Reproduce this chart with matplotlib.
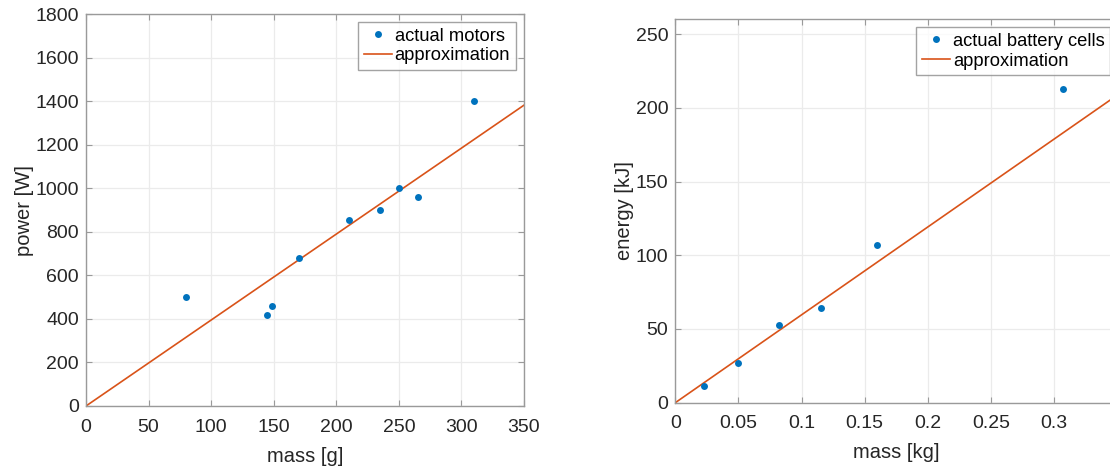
import matplotlib
matplotlib.use("Agg")
import matplotlib.pyplot as plt
import numpy as np

plt.rcParams['font.family'] = ['Liberation Sans', 'DejaVu Sans']

# Motor data: mass [g] vs. power [W]
motor_mass_g = [80, 145, 149, 170, 210, 235, 250, 265, 310]
motor_power_w = [500, 420, 460, 680, 856, 900, 1000, 960, 1400]
motor_slope = 3.95          # W per g, linear approximation through origin
motor_xticks = [0, 50, 100, 150, 200, 250, 300, 350]
motor_yticks = [0, 200, 400, 600, 800, 1000, 1200, 1400, 1600, 1800]

# Battery cell data: mass [kg] vs. energy [kJ]
cell_mass_kg = [0.023, 0.05, 0.082, 0.115, 0.16, 0.307]
cell_energy_kj = [11, 27, 53, 64, 107, 213]
cell_slope = 596            # kJ per kg, linear approximation through origin
cell_xticks = [0, 0.05, 0.1, 0.15, 0.2, 0.25, 0.3]
cell_xticklabels = ['0', '0.05', '0.1', '0.15', '0.2', '0.25', '0.3']
cell_yticks = [0, 50, 100, 150, 200, 250]

BLUE = '#0072BD'
ORANGE = '#D95319'
TEXT = '#262626'
SPINE = '#9a9a9a'
GRID = '#ebebeb'

W, H = 1110, 466
fig = plt.figure(figsize=(W / 100, H / 100), dpi=100)
fig.patch.set_facecolor('white')


def px_axes(left, top, right, bottom):
    return fig.add_axes([left / W, 1 - bottom / H, (right - left) / W, (bottom - top) / H])


def style(ax):
    for s in ax.spines.values():
        s.set_color(SPINE)
        s.set_linewidth(1.0)
    ax.tick_params(direction='in', length=4, width=0.8, color=SPINE,
                   labelsize=14, labelcolor=TEXT, top=True, right=True)
    ax.tick_params(axis='x', pad=9)
    ax.tick_params(axis='y', pad=5)
    ax.grid(True, color=GRID, linewidth=0.9)
    ax.set_axisbelow(True)


def legend(ax, x, y):
    leg = ax.legend(loc='upper right', bbox_to_anchor=(x, y), fontsize=13.2,
                    frameon=True, fancybox=False, borderpad=0.3, labelspacing=0.15,
                    handlelength=1.55, handletextpad=0.15, borderaxespad=0)
    leg.get_frame().set_edgecolor('#8c8c8c')
    leg.get_frame().set_linewidth(1.0)
    for t in leg.get_texts():
        t.set_color('black')


# Left panel: motors
ax1 = px_axes(86, 14.3, 524, 406)
style(ax1)
ax1.plot(motor_mass_g, motor_power_w, 'o', color=BLUE, markersize=5,
         markeredgewidth=0, label='actual motors', zorder=3)
xm = np.array([0, motor_xticks[-1]])
ax1.plot(xm, motor_slope * xm, '-', color=ORANGE, linewidth=1.2,
         label='approximation', zorder=2)
ax1.set_xlim(0, 350)
ax1.set_ylim(0, 1800)
ax1.set_xticks(motor_xticks)
ax1.set_yticks(motor_yticks)
ax1.set_xlabel('mass [g]', fontsize=14.5, color=TEXT, labelpad=8)
ax1.set_ylabel('power [W]', fontsize=14.5, color=TEXT, labelpad=1)
legend(ax1, 0.981, 0.98)

# Right panel: battery cells
ax2 = px_axes(675.3, 19.3, 1117.3, 402.7)
style(ax2)
ax2.plot(cell_mass_kg, cell_energy_kj, 'o', color=BLUE, markersize=5,
         markeredgewidth=0, label='actual battery cells', zorder=3)
xc = np.array([0, 0.35])
ax2.plot(xc, cell_slope * xc, '-', color=ORANGE, linewidth=1.2,
         label='approximation', zorder=2)
ax2.set_xlim(0, 0.35)
ax2.set_ylim(0, 260)
ax2.set_xticks(cell_xticks)
ax2.set_xticklabels(cell_xticklabels)
ax2.set_yticks(cell_yticks)
ax2.set_xlabel('mass [kg]', fontsize=14.5, color=TEXT, labelpad=8)
ax2.set_ylabel('energy [kJ]', fontsize=14.5, color=TEXT, labelpad=1)
legend(ax2, 0.9835, 0.979)

fig.savefig('out.png', dpi=100)
